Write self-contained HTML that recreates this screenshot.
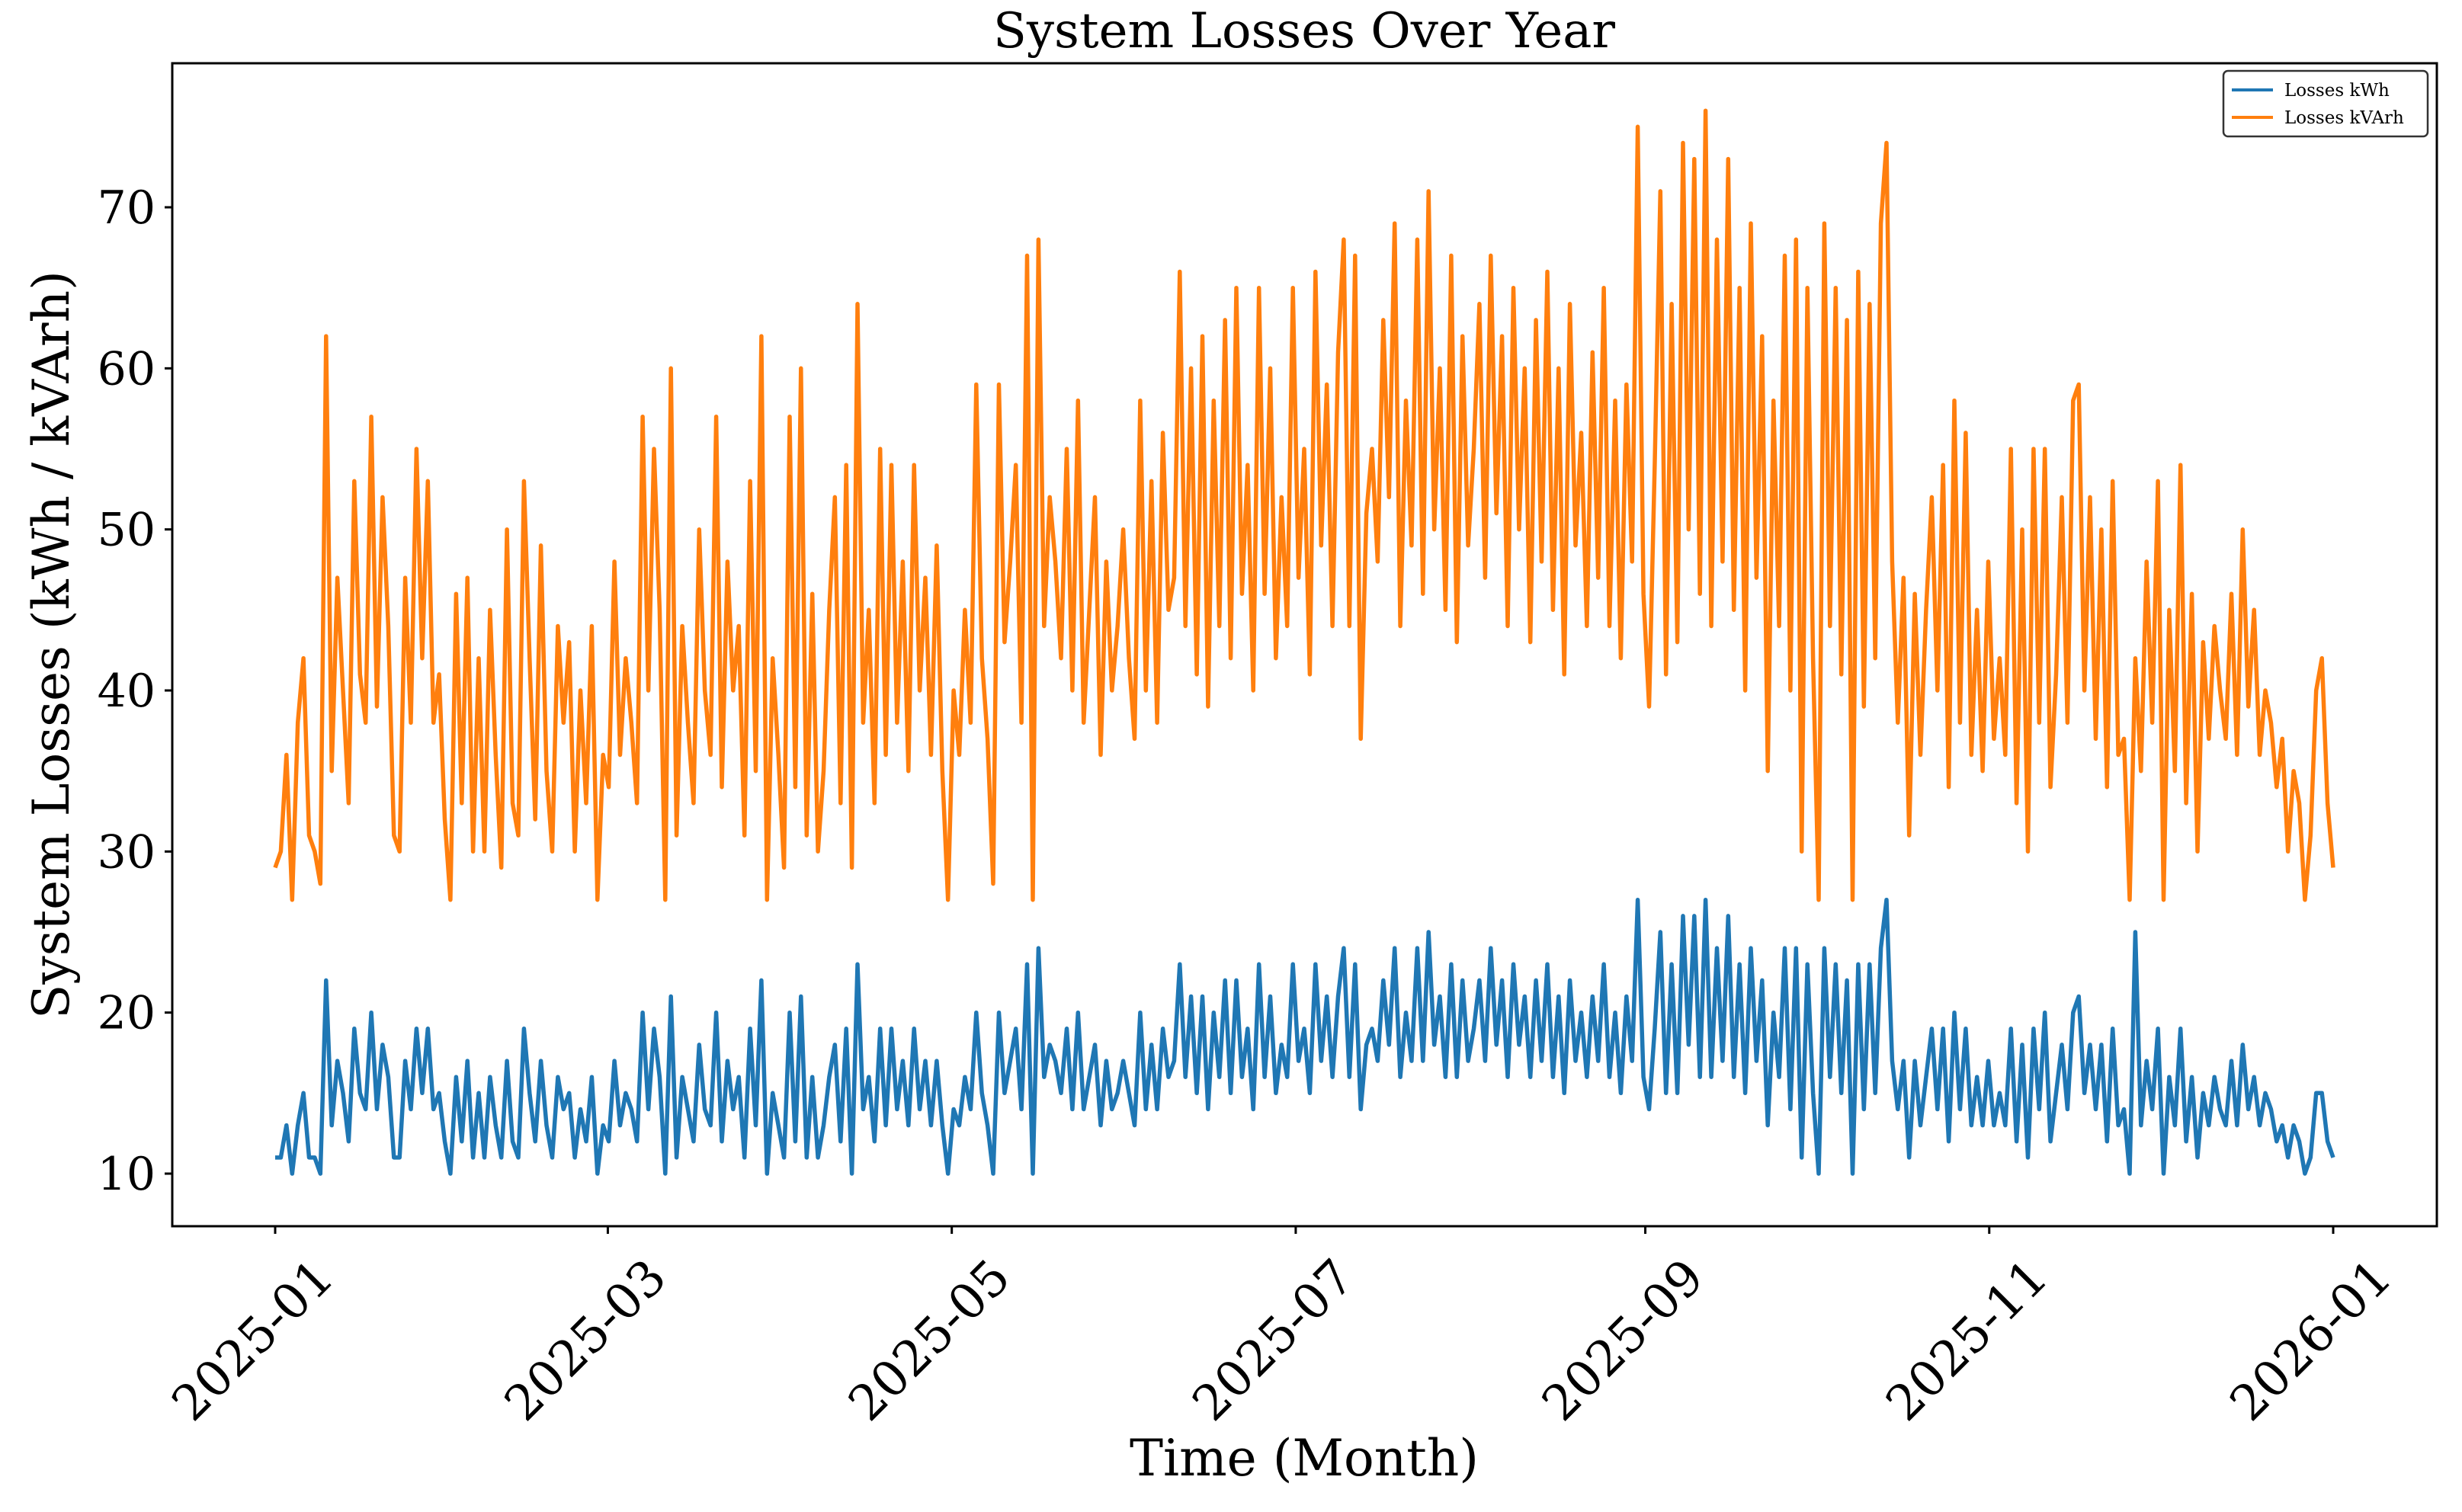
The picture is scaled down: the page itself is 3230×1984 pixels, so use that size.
<!DOCTYPE html>
<html><head><meta charset="utf-8"><style>
html,body{margin:0;padding:0;background:#fff;}
svg text{font-family:"DejaVu Serif","Liberation Serif",serif;fill:#000;}
</style></head><body>
<svg id="chart" width="3230" height="1979" viewBox="0 0 3230 1979" xmlns="http://www.w3.org/2000/svg">
<rect width="3230" height="1979" fill="#fff"/>
<text x="1711" y="62" font-size="64" text-anchor="middle">System Losses Over Year</text>
<g id="plot"></g>
<rect x="226" y="83" width="2971" height="1526" fill="none" stroke="#000" stroke-width="3"/>
<g id="ticks"></g>
<text transform="translate(90,846) rotate(-90)" font-size="66" text-anchor="middle">System Losses (kWh / kVArh)</text>
<text x="1711" y="1936" font-size="66" text-anchor="middle">Time (Month)</text>
<g>
<rect x="2917" y="93" width="268" height="86" rx="6" fill="#fff" stroke="#333" stroke-width="2.5"/>
<line x1="2928" y1="118" x2="2982" y2="118" stroke="#1f77b4" stroke-width="4"/>
<text x="2997" y="126" font-size="23">Losses kWh</text>
<line x1="2928" y1="154" x2="2982" y2="154" stroke="#ff7f0e" stroke-width="4"/>
<text x="2997" y="162" font-size="23">Losses kVArh</text>
</g>
</svg>
<script>
const kvarh = [29,30,36,27,38,42,31,30,28,62,35,47,40,33,53,41,38,57,39,52,44,31,30,47,38,55,42,53,38,41,32,
27,46,33,47,30,42,30,45,36,29,50,33,31,53,42,32,49,35,30,44,38,43,30,40,33,44,27,36,
34,48,36,42,38,33,57,40,55,45,27,60,31,44,38,33,50,40,36,57,34,48,40,44,31,53,35,62,27,42,36,
29,57,34,60,31,46,30,35,45,52,33,54,29,64,38,45,33,55,36,54,38,48,35,54,40,47,36,49,35,27,
40,36,45,38,59,42,37,28,59,43,48,54,38,67,27,68,44,52,48,42,55,40,58,38,45,52,36,48,40,44,50,
42,37,58,40,53,38,56,45,47,66,44,60,41,62,39,58,44,63,42,65,46,54,40,65,46,60,42,52,44,65,
47,55,41,66,49,59,44,61,68,44,67,37,51,55,48,63,52,69,44,58,49,68,46,71,50,60,45,67,43,62,49,
55,64,47,67,51,62,44,65,50,60,43,63,48,66,45,60,41,64,49,56,44,61,47,65,44,58,42,59,48,75,46,
39,54,71,41,64,43,74,50,73,46,76,44,68,48,73,45,65,40,69,47,62,35,58,44,67,40,68,30,65,42,
27,69,44,65,41,63,27,66,39,64,42,69,74,48,38,47,31,46,36,45,52,40,54,34,58,38,56,36,45,35,48,
37,42,36,55,33,50,30,55,38,55,34,41,52,38,58,59,40,52,37,50,34,53,36,37,27,42,35,48,38,53,
27,45,35,54,33,46,30,43,37,44,40,37,46,36,50,39,45,36,40,38,34,37,30,35,33,27,31,40,42,33,29];
const kwh = [11,11,13,10,13,15,11,11,10,22,13,17,15,12,19,15,14,20,14,18,16,11,11,17,14,19,15,19,14,15,12,
10,16,12,17,11,15,11,16,13,11,17,12,11,19,15,12,17,13,11,16,14,15,11,14,12,16,10,13,
12,17,13,15,14,12,20,14,19,16,10,21,11,16,14,12,18,14,13,20,12,17,14,16,11,19,13,22,10,15,13,
11,20,12,21,11,16,11,13,16,18,12,19,10,23,14,16,12,19,13,19,14,17,13,19,14,17,13,17,13,10,
14,13,16,14,20,15,13,10,20,15,17,19,14,23,10,24,16,18,17,15,19,14,20,14,16,18,13,17,14,15,17,
15,13,20,14,18,14,19,16,17,23,16,21,15,21,14,20,16,22,15,22,16,19,14,23,16,21,15,18,16,23,
17,19,15,23,17,21,16,21,24,16,23,14,18,19,17,22,18,24,16,20,17,24,17,25,18,21,16,23,16,22,17,
19,22,17,24,18,22,16,23,18,21,16,22,17,23,16,21,15,22,17,20,16,21,17,23,16,20,15,21,17,27,16,
14,19,25,15,23,15,26,18,26,16,27,16,24,17,26,16,23,15,24,17,22,13,20,16,24,14,24,11,23,15,
10,24,16,23,15,22,10,23,14,23,15,24,27,17,14,17,11,17,13,16,19,14,19,12,20,14,19,13,16,13,17,
13,15,13,19,12,18,11,19,14,20,12,15,18,14,20,21,15,18,14,18,12,19,13,14,10,25,13,17,14,19,
10,16,13,19,12,16,11,15,13,16,14,13,17,13,18,14,16,13,15,14,12,13,11,13,12,10,11,15,15,12,11];
const xTickLabels = ["2025-01","2025-03","2025-05","2025-07","2025-09","2025-11","2026-01"];
const xTickDays = [0,59,120,181,243,304,365];
const yTickValues = [10,20,30,40,50,60,70];

const NS = "http://www.w3.org/2000/svg";
const xScale = d => 361 + d * (3061 - 361) / 365;
const yScale = v => 1540 - (v - 10) * (1540 - 272) / 60;
const plot = document.getElementById('plot');
const ticks = document.getElementById('ticks');

function drawSeries(arr, color, name) {
  const n = arr.length;
  const pts = arr.map((v, i) => xScale(i * 365 / (n - 1)).toFixed(1) + ',' + yScale(v).toFixed(1)).join(' ');
  const pl = document.createElementNS(NS, 'polyline');
  pl.setAttribute('points', pts);
  pl.setAttribute('fill', 'none');
  pl.setAttribute('stroke', color);
  pl.setAttribute('stroke-width', '5.5');
  pl.setAttribute('stroke-linejoin', 'round');
  
  
  plot.appendChild(pl);
}
drawSeries(kwh, '#1f77b4', 'line-losses-kwh');
drawSeries(kvarh, '#ff7f0e', 'line-losses-kvarh');

yTickValues.forEach(v => {
  const y = yScale(v);
  const l = document.createElementNS(NS, 'line');
  l.setAttribute('x1', 216); l.setAttribute('x2', 226);
  l.setAttribute('y1', y); l.setAttribute('y2', y);
  l.setAttribute('stroke', '#000'); l.setAttribute('stroke-width', '3');
  
  
  ticks.appendChild(l);
  const t = document.createElementNS(NS, 'text');
  t.setAttribute('x', 204); t.setAttribute('y', y + 21);
  t.setAttribute('font-size', '60'); t.setAttribute('text-anchor', 'end');
  t.textContent = String(v);
  
  
  ticks.appendChild(t);
});
xTickDays.forEach((d, i) => {
  const x = xScale(d);
  const l = document.createElementNS(NS, 'line');
  l.setAttribute('x1', x); l.setAttribute('x2', x);
  l.setAttribute('y1', 1609); l.setAttribute('y2', 1619);
  l.setAttribute('stroke', '#000'); l.setAttribute('stroke-width', '3');
  
  
  ticks.appendChild(l);
  const t = document.createElementNS(NS, 'text');
  t.setAttribute('transform', 'translate(' + (x + 80) + ',1680) rotate(-45)');
  t.setAttribute('font-size', '64'); t.setAttribute('text-anchor', 'end');
  t.textContent = xTickLabels[i];
  
  
  ticks.appendChild(t);
});
</script>
</body></html>
